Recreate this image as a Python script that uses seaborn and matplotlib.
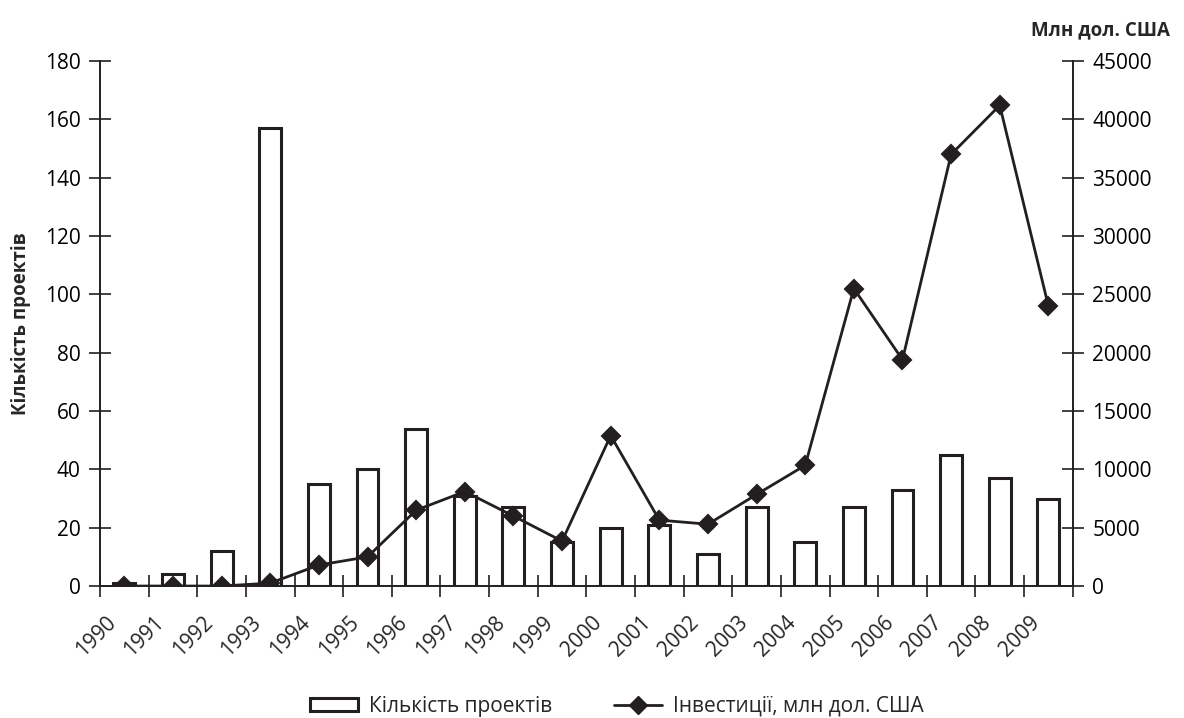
import numpy as np
import pandas as pd
import seaborn as sns
from matplotlib import pyplot as plt
from matplotlib.patches import Patch
from matplotlib.lines import Line2D
from matplotlib.transforms import ScaledTranslation

years = [str(y) for y in range(1990, 2010)]
projects = [1, 4, 12, 157, 35, 40, 54, 31, 27, 15, 20, 21, 11, 27, 15, 27, 33, 45, 37, 30]
investments = [0, 0, 0, 250, 1800, 2500, 6500, 8100, 6000, 3850, 12900, 5650, 5300, 7850,
               10350, 25500, 19400, 37000, 41200, 24000]

bar_label = "Кількість проектів"
line_label = "Інвестиції, млн дол. США"

df = pd.DataFrame({"year": years, "projects": projects, "invest": investments})

sns.set_style("ticks")
plt.rcParams["font.family"] = ["Open Sans", "DejaVu Sans"]
plt.rcParams["font.size"] = 14

ink = "#231f20"

fig, ax = plt.subplots(figsize=(11.84, 7.18), dpi=100)
fig.subplots_adjust(left=0.0845, right=0.906, top=0.915, bottom=0.1838)

sns.barplot(data=df, x="year", y="projects", ax=ax, color="white",
            edgecolor=ink, linewidth=2.2, width=0.45, saturation=1)

ax2 = ax.twinx()
sns.pointplot(data=df, x="year", y="invest", ax=ax2, color=ink,
              markers="D", markersize=9, linewidth=2)

ax.set_ylim(0, 180)
ax.set_yticks(np.arange(0, 181, 20))
ax2.set_ylim(0, 45000)
ax2.set_yticks(np.arange(0, 45001, 5000))
ax.set_xlim(-0.5, len(years) - 0.5)

for a in (ax, ax2):
    for s in a.spines.values():
        s.set_color(ink)
        s.set_linewidth(1.2)
    a.spines["top"].set_visible(False)
    a.tick_params(axis="y", direction="inout", length=16, width=1.2, colors=ink,
                  labelsize=15, labelcolor="black", pad=6)
ax.spines["right"].set_visible(True)

# category boundaries as ticks, labels at centres
ax.set_xticks(np.arange(-0.5, len(years), 1.0), minor=True)
ax.tick_params(axis="x", which="minor", direction="inout", length=16, width=1.2,
               colors=ink)
ax.tick_params(axis="x", which="major", length=0, pad=24, labelsize=15)
ax.set_xticks(range(len(years)))
ax.set_xticklabels(years, rotation=45, ha="right", va="center", rotation_mode="anchor")
shift = ScaledTranslation(-12 / 100, 0, fig.dpi_scale_trans)
for lbl in ax.get_xticklabels():
    lbl.set_transform(lbl.get_transform() + shift)

ax.set_xlabel("")
ax.set_ylabel(bar_label, fontweight="bold", fontsize=13.5, labelpad=10)
ax2.set_ylabel("")
fig.text(0.988, 0.958, "Млн дол. США", ha="right", va="center",
         fontweight="bold", fontsize=13.5)

handles = [
    Patch(facecolor="white", edgecolor=ink, linewidth=2.2),
    Line2D([], [], color=ink, marker="D", markersize=9, linewidth=2),
]
fig.legend(handles, [bar_label, line_label], loc="center",
           bbox_to_anchor=(0.521, 0.0167), ncol=2, frameon=False, fontsize=15,
           columnspacing=3.0, handlelength=2.3, handletextpad=0.5,
           borderpad=0, handleheight=0.6)

fig.savefig("out.png", dpi=100)
